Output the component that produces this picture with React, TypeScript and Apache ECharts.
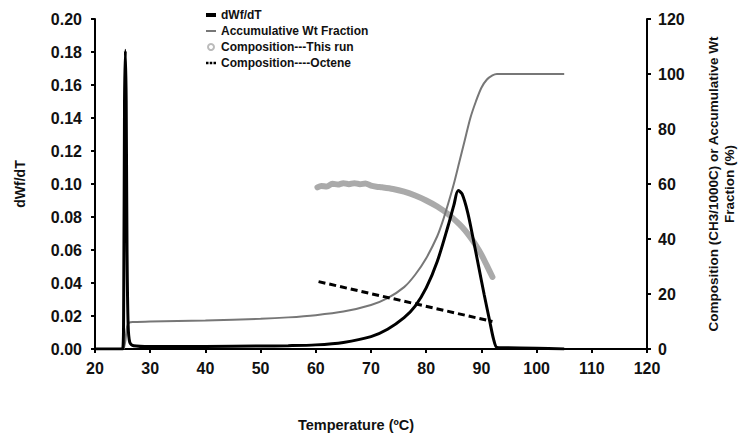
import React, { useEffect, useRef } from "react";
import * as echarts from "echarts";

// dWf/dT curve: [temperature, value]
const dwfTemps = [20, 25.0, 25.2, 25.35, 25.5, 25.65, 25.8, 26.0, 26.3, 27, 30, 40, 50, 55, 60, 65, 70, 73, 76, 78, 80, 82, 84, 85, 85.8, 86.5, 87.5, 88.5, 89.5, 90.5, 91.5, 92.2, 92.8, 94, 100, 105];
const dwfValues = [0, 0, 0.03, 0.15, 0.181, 0.15, 0.06, 0.015, 0.004, 0.002, 0.0015, 0.0015, 0.0018, 0.002, 0.0025, 0.004, 0.0075, 0.012, 0.019, 0.026, 0.037, 0.053, 0.075, 0.087, 0.096, 0.094, 0.083, 0.067, 0.05, 0.033, 0.017, 0.006, 0.001, 0.0008, 0.0005, 0];

// Accumulative weight fraction (%)
const accTemps = [25.2, 25.5, 25.8, 26.2, 27, 30, 40, 50, 55, 60, 65, 70, 73, 76, 78, 80, 82, 83, 84, 85, 86, 87, 88, 89, 90, 91, 92, 92.8, 105];
const accValues = [0, 3, 8, 9.6, 9.8, 10, 10.4, 11, 11.5, 12.3, 13.6, 16, 18.5, 22.5, 27, 33, 41, 46.5, 53, 60, 68, 76, 84, 90, 95, 98, 99.5, 100, 100];

// Composition — this run (CH3/1000C)
const compTemps = [60.3, 61, 62, 63, 64, 65, 66, 67, 68, 69, 70, 71, 72, 74, 76, 78, 80, 82, 84, 86, 87, 88, 89, 90, 91, 92];
const compValues = [58.8, 59.3, 59.1, 60.1, 59.8, 60.3, 59.9, 60.3, 59.9, 60.2, 59.4, 59, 58.8, 58.2, 57.2, 55.8, 54, 51.8, 49, 45.4, 43.2, 40.6, 37.7, 34.3, 30.3, 26.2];

// Composition — octene (CH3/1000C)
const octTemps = [60.5, 92];
const octValues = [24.5, 10];

const xTicks = { min: 20, max: 120, interval: 10 };
const leftTicks = { min: 0, max: 0.2, interval: 0.02 };
const rightTicks = { min: 0, max: 120, interval: 20 };

const zip = (a: number[], b: number[]) => a.map((v, i) => [v, b[i]]);

export default function App() {
  const ref = useRef<HTMLDivElement>(null);
  useEffect(() => {
    document.body.style.margin = "0";
    const chart = echarts.init(ref.current!, undefined, { renderer: "svg" });
    const font = "Liberation Sans, Arial, sans-serif";
    const axisLabel = { color: "#111", fontWeight: "bold" as const, fontSize: 16, fontFamily: font };
    chart.setOption({
      animation: false,
      backgroundColor: "#fff",
      textStyle: { fontFamily: font },
      grid: { left: 95, right: 97, top: 19, bottom: 96 },
      legend: {
        orient: "vertical",
        left: 201,
        top: 4,
        itemWidth: 10,
        itemHeight: 6,
        itemGap: 4,
        textStyle: { color: "#111", fontWeight: "bold", fontSize: 12, fontFamily: font },
        data: [
          { name: "dWf/dT", icon: "path://M0,0h10v4h-10z" },
          { name: "Accumulative Wt Fraction", icon: "path://M0,0h10v2h-10z" },
          { name: "Composition---This run", icon: "emptyCircle", itemStyle: { color: "#bbb" } },
          { name: "Composition----Octene", icon: "path://M0,0h3v3h-3zM4.5,0h3v3h-3zM9,0h3v3h-3z" },
        ],
      },
      xAxis: {
        type: "value",
        ...xTicks,
        name: "Temperature (ºC)",
        nameLocation: "middle",
        nameGap: 68,
        nameTextStyle: { color: "#111", fontWeight: "bold", fontSize: 14.5, fontFamily: font, padding: [0, 30, 0, 0] },
        axisLine: { lineStyle: { color: "#000", width: 2 } },
        axisTick: { inside: false, length: 4, lineStyle: { color: "#000", width: 2 } },
        axisLabel: { ...axisLabel, margin: 11 },
        splitLine: { show: false },
      },
      yAxis: [
        {
          type: "value",
          ...leftTicks,
          position: "left",
          name: "dWf/dT",
          nameLocation: "middle",
          nameRotate: 90,
          nameGap: 68,
          nameTextStyle: { color: "#111", fontWeight: "bold", fontSize: 14, fontFamily: font },
          axisLine: { show: true, lineStyle: { color: "#000", width: 2 } },
          axisTick: { show: true, length: 4, lineStyle: { color: "#000", width: 2 } },
          axisLabel: { ...axisLabel, margin: 13, formatter: (v: number) => v.toFixed(2) },
          splitLine: { show: false },
        },
        {
          type: "value",
          ...rightTicks,
          position: "right",
          name: "Composition (CH3/1000C) or Accumulative Wt\nFraction (%)",
          nameLocation: "middle",
          nameRotate: 90,
          nameGap: 58,
          nameTextStyle: { color: "#111", fontWeight: "bold", fontSize: 13.5, fontFamily: font, lineHeight: 16, align: "center" },
          axisLine: { show: true, lineStyle: { color: "#000", width: 2 } },
          axisTick: { show: true, length: 4, lineStyle: { color: "#000", width: 2 } },
          axisLabel: { ...axisLabel, margin: 11 },
          splitLine: { show: false },
        },
      ],
      series: [
        {
          name: "dWf/dT",
          type: "line",
          yAxisIndex: 0,
          data: zip(dwfTemps, dwfValues),
          symbol: "none",
          smooth: 0.3,
          color: "#000",
          lineStyle: { color: "#000", width: 3 },
          z: 4,
        },
        {
          name: "Accumulative Wt Fraction",
          type: "line",
          yAxisIndex: 1,
          data: zip(accTemps, accValues),
          symbol: "none",
          smooth: 0.3,
          color: "#777",
          lineStyle: { color: "#777", width: 2 },
          z: 3,
        },
        {
          name: "Composition---This run",
          type: "line",
          yAxisIndex: 1,
          data: zip(compTemps, compValues),
          symbol: "none",
          smooth: 0.3,
          color: "#aaa",
          lineStyle: { color: "#aaa", width: 6, cap: "round", join: "round" },
          z: 2,
        },
        {
          name: "Composition----Octene",
          type: "line",
          yAxisIndex: 1,
          data: zip(octTemps, octValues),
          symbol: "none",
          color: "#000",
          lineStyle: { color: "#000", width: 3, type: [7, 4] },
          z: 5,
        },
      ],
    });
    return () => chart.dispose();
  }, []);
  return <div ref={ref} style={{ width: 745, height: 445 }} />;
}
